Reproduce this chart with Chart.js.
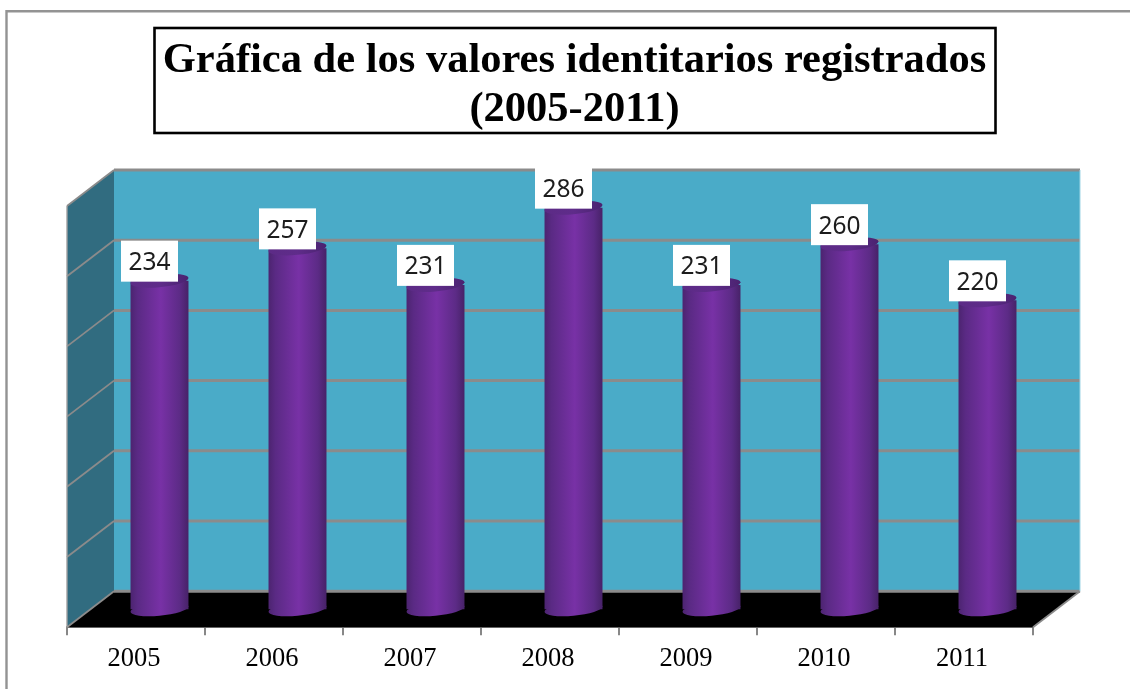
<!DOCTYPE html>
<html><head><meta charset="utf-8">
<style>html,body{margin:0;padding:0;background:#fff;overflow:hidden}
#w{position:absolute;left:0;top:0;width:1130px;height:689px}
canvas{filter:blur(0.45px)}</style>
<script src="https://cdn.jsdelivr.net/npm/chart.js@4/dist/chart.umd.min.js"></script>
</head><body><div id="w"><canvas id="c" width="1130" height="689"></canvas></div>
<script>
const categories = ['2005','2006','2007','2008','2009','2010','2011'];
const values = [234,257,231,286,231,260,220];
const titleLines = ['Gráfica de los valores identitarios registrados','(2005-2011)'];
const yMin = 0, yMax = 300, yStep = 50;
const depthX = 47, depthY = 36;
const barDX = 23.5, barDY = 18;

function barGradient(ctx, cx, hw, stops){
  const g = ctx.createLinearGradient(cx-hw,0,cx+hw,0);
  stops.forEach(s=>g.addColorStop(s[0],s[1]));
  return g;
}
const bodyStops=[[0,'#4c2470'],[0.12,'#5a2a84'],[0.52,'#7831a6'],[0.85,'#5c2b86'],[1,'#472268']];
const capStops=[[0,'#5c2b86'],[0.5,'#5f2c8a'],[1,'#4a2370']];

function ell(ctx,cx,cy,rx,ry,stops){
  ctx.save();
  ctx.translate(cx,cy);
  ctx.transform(1,-0.09,0,1,0,0);
  ctx.fillStyle=barGradient(ctx,0,rx,stops);
  ctx.beginPath();
  ctx.ellipse(0,0,rx,ry,0,0,Math.PI*2);
  ctx.fill();
  ctx.restore();
}
const scene = {
  id:'scene',
  beforeDatasetsDraw(chart){
    const {ctx,scales:{x,y}}=chart, L=x.left,R=x.right,T=y.top,B=y.bottom;
    ctx.save();
    ctx.fillStyle='#316c80';
    ctx.beginPath();ctx.moveTo(L,T);ctx.lineTo(L+depthX,T-depthY);ctx.lineTo(L+depthX,B-depthY);ctx.lineTo(L,B);ctx.closePath();ctx.fill();
    ctx.fillStyle='#4aabc8';
    ctx.fillRect(L+depthX,T-depthY,R-L,B-T);
    ctx.fillStyle='#000';
    ctx.beginPath();ctx.moveTo(L,B);ctx.lineTo(R,B);ctx.lineTo(R+depthX,B-depthY);ctx.lineTo(L+depthX,B-depthY);ctx.closePath();ctx.fill();
    for(let v=yMin;v<=yMax;v+=yStep){
      const p=y.getPixelForValue(v);
      ctx.strokeStyle='#8b8b8b';
      ctx.lineWidth=1.8;
      ctx.beginPath();ctx.moveTo(L,p);ctx.lineTo(L+depthX,p-depthY);ctx.stroke();
      ctx.lineWidth=3;
      ctx.beginPath();ctx.moveTo(L+depthX,p-depthY);ctx.lineTo(R+depthX,p-depthY);ctx.stroke();
    }
    ctx.strokeStyle='#8b8b8b';ctx.lineWidth=1.8;
    ctx.beginPath();ctx.moveTo(R,B);ctx.lineTo(R+depthX,B-depthY);ctx.stroke();
    ctx.strokeStyle='#9fd6e6';ctx.lineWidth=1;
    ctx.beginPath();ctx.moveTo(R+depthX,T-depthY);ctx.lineTo(R+depthX,B-depthY);ctx.stroke();
    ctx.strokeStyle='#a0a0a0';ctx.lineWidth=1.4;
    ctx.beginPath();ctx.moveTo(L,T);ctx.lineTo(L,B);ctx.stroke();
    ctx.restore();
  },
  beforeDatasetDraw(chart){
    chart.ctx.save();
    chart.ctx.translate(barDX,-barDY);
  },
  afterDatasetDraw(chart,args){
    const ctx=chart.ctx;
    args.meta.data.forEach(b=>{
      const hw=b.width/2;
      ell(ctx,b.x,b.base,hw,6.5,bodyStops);
      ell(ctx,b.x,b.y,hw,6.5,capStops);
    });
    ctx.restore();
  },
  afterDatasetsDraw(chart){
    const ctx=chart.ctx, meta=chart.getDatasetMeta(0);
    ctx.save();
    meta.data.forEach((b,i)=>{
      const w=57,h=41,cx=b.x+barDX-10,bot=b.y-barDY+1;
      ctx.fillStyle='#fff';
      ctx.fillRect(cx-w/2,bot-h,w,h);
      ctx.fillStyle='#1c1c1c';
      ctx.font='24.5px "Noto Sans"';
      ctx.textAlign='center';ctx.textBaseline='middle';
      ctx.fillText(String(values[i]),cx,bot-h/2+2);
    });
    ctx.restore();
  },
  beforeDraw(chart){
    const ctx=chart.ctx;
    ctx.save();
    ctx.strokeStyle='#939393';ctx.lineWidth=2.4;
    ctx.beginPath();ctx.moveTo(6.5,689);ctx.lineTo(6.5,11.2);ctx.lineTo(1130,11.2);ctx.stroke();
    ctx.fillStyle='#fff';ctx.strokeStyle='#000';ctx.lineWidth=2.6;
    ctx.fillRect(154.5,28,841,105);ctx.strokeRect(154.5,28,841,105);
    ctx.restore();
  }
};
new Chart(document.getElementById('c'),{
  type:'bar',
  data:{labels:categories,datasets:[{
    data:values,
    barPercentage:0.42,categoryPercentage:1,
    backgroundColor(c){
      const ch=c.chart; if(!ch.chartArea) return '#6a2c96';
      const cx=ch.scales.x.getPixelForValue(c.dataIndex);
      return barGradient(ch.ctx,cx,29,bodyStops);
    },
    borderWidth:0,
    clip:false
  }]},
  plugins:[scene],
  options:{
    responsive:false,animation:false,
    layout:{padding:{left:19,right:0,top:37,bottom:6}},
    plugins:{
      legend:{display:false},tooltip:{enabled:false},
      title:{display:true,text:titleLines,color:'#000',align:'center',
        font:{family:'"Liberation Serif"',size:42.5,weight:'bold',lineHeight:1.15},
        padding:{top:0,bottom:71.25}}
    },
    scales:{
      x:{
        grid:{drawOnChartArea:false,drawTicks:true,tickLength:8,color:'#878787',lineWidth:2,offset:true},
        border:{display:true,color:'#878787',width:2},
        ticks:{color:'#000',font:{family:'"Liberation Serif"',size:26.5},padding:8,labelOffset:-2,maxRotation:0}
      },
      y:{
        min:yMin,max:yMax,
        grid:{display:false},border:{display:false},
        ticks:{display:false,stepSize:yStep},
        afterFit(s){s.width=48;}
      },
      yRight:{
        position:'right',min:yMin,max:yMax,
        grid:{display:false},border:{display:false},
        ticks:{display:false,stepSize:yStep},
        afterFit(s){s.width=97;}
      }
    }
  }
});
</script></body></html>
